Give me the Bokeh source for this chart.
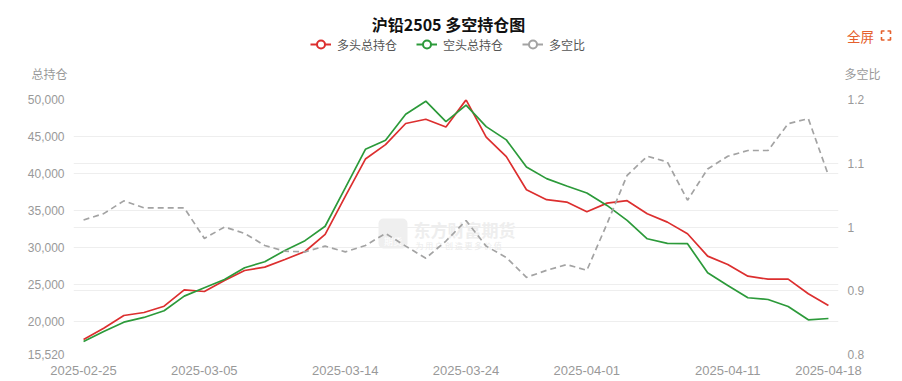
from bokeh.plotting import figure
from bokeh.layouts import column
from bokeh.models import (Range1d, LinearAxis, FixedTicker, Label, Legend, LegendItem,
                          NumeralTickFormatter, CustomJSTickFormatter, BoxAnnotation)
from bokeh.embed import file_html
from bokeh.resources import INLINE

# ---------------- data ----------------
dates = ["2025-02-25", "2025-02-26", "2025-02-27", "2025-02-28",
         "2025-03-03", "2025-03-04", "2025-03-05", "2025-03-06", "2025-03-07",
         "2025-03-10", "2025-03-11", "2025-03-12", "2025-03-13", "2025-03-14",
         "2025-03-17", "2025-03-18", "2025-03-19", "2025-03-20", "2025-03-21",
         "2025-03-24", "2025-03-25", "2025-03-26", "2025-03-27", "2025-03-28",
         "2025-03-31", "2025-04-01", "2025-04-02", "2025-04-03",
         "2025-04-07", "2025-04-08", "2025-04-09", "2025-04-10", "2025-04-11",
         "2025-04-14", "2025-04-15", "2025-04-16", "2025-04-17", "2025-04-18"]

long_oi = [17540, 19070, 20790, 21200, 22050, 24270, 24040, 25530, 26880, 27330,
           28370, 29450, 31760, 36900, 41950, 43900, 46750, 47330, 46290, 49950,
           44900, 42270, 37800, 36450, 36130, 34830, 35990, 36320, 34560, 33420,
           31850, 28820, 27700, 26110, 25710, 25710, 23730, 22150]

short_oi = [17270, 18630, 19890, 20530, 21430, 23410, 24550, 25670, 27250, 28060,
            29590, 30910, 32860, 38050, 43270, 44490, 48010, 49770, 47020, 49230,
            46330, 44540, 40880, 39300, 38300, 37350, 35680, 33650, 31170, 30540,
            30500, 26570, 24860, 23190, 22960, 22010, 20210, 20390]

ratio = [1.011, 1.021, 1.041, 1.030, 1.030, 1.030, 0.982, 1.000, 0.990, 0.971,
         0.962, 0.961, 0.970, 0.961, 0.971, 0.990, 0.970, 0.951, 0.978, 1.010,
         0.970, 0.952, 0.921, 0.932, 0.941, 0.932, 1.005, 1.081, 1.111, 1.102,
         1.042, 1.091, 1.111, 1.120, 1.120, 1.162, 1.170, 1.081]

x_tick_labels = ["2025-02-25", "2025-03-05", "2025-03-14", "2025-03-24",
                 "2025-04-01", "2025-04-11", "2025-04-18"]
left_ticks = [15520, 20000, 25000, 30000, 35000, 40000, 45000, 50000]
right_ticks = [0.8, 0.9, 1.0, 1.1, 1.2]

title_text = "沪铅2505 多空持仓图"
series_names = ["多头总持仓", "空头总持仓", "多空比"]
left_name = "总持仓"
right_name = "多空比"
fullscreen_text = "全屏"

# ---------------- style / layout ----------------
RED = "#dc2f2f"
GREEN = "#2c9a3a"
GRAY = "#a3a3a3"
ORANGE = "#e5602d"
TICK_COLOR = "#999999"
CJK = "Noto Sans CJK SC"
LAT = "Liberation Sans"

W = 900
HEAD_H = 91
MAIN_H = 290
BL, BR, BT, BB = 73, 62, 8, 27
FRAME_L, FRAME_T = BL, HEAD_H + BT
FRAME_W, FRAME_H = W - BL - BR, MAIN_H - BT - BB
N = len(dates)
YMIN, YMAX = left_ticks[0], left_ticks[-1]
RMIN, RMAX = right_ticks[0], right_ticks[-1]


def dx(px):
    return -0.5 + (px - FRAME_L) / FRAME_W * N


def dy(py):
    return YMAX - (py - FRAME_T) / FRAME_H * (YMAX - YMIN)


# ---------------- header (title, legend, axis names) ----------------
h = figure(width=W, height=HEAD_H, output_backend="svg", toolbar_location=None,
           x_range=Range1d(0, W), y_range=Range1d(HEAD_H, 0),
           x_axis_location=None, y_axis_location=None, min_border=0,
           background_fill_color="white", border_fill_color="white")
h.frame_align = False
h.outline_line_color = None
h.grid.visible = False

h.add_layout(Label(x=448, y=23.5, text=title_text, text_align="center",
                   text_baseline="middle", text_font=CJK, text_font_size="16px",
                   text_font_style="bold", text_color="#111111"))
h.add_layout(Label(x=49, y=73, text=left_name, text_align="center",
                   text_baseline="middle", text_font=CJK, text_font_size="12px",
                   text_color=TICK_COLOR))
h.add_layout(Label(x=862, y=73, text=right_name, text_align="center",
                   text_baseline="middle", text_font=CJK, text_font_size="12px",
                   text_color=TICK_COLOR))
h.add_layout(Label(x=846.5, y=35, text=fullscreen_text, text_align="left",
                   text_baseline="middle", text_font=CJK, text_font_size="13.5px",
                   text_color=ORANGE))

# fullscreen icon: four corner marks
cx0, cx1, cy0, cy1, arm = 881, 890, 30.5, 39.5, 3
icon_xs = [[cx0, cx0, cx0 + arm], [cx1 - arm, cx1, cx1],
           [cx0, cx0, cx0 + arm], [cx1 - arm, cx1, cx1]]
icon_ys = [[cy0 + arm, cy0, cy0], [cy0, cy0, cy0 + arm],
           [cy1 - arm, cy1, cy1], [cy1, cy1, cy1 - arm]]
h.multi_line(icon_xs, icon_ys, line_color=ORANGE, line_width=1.6)

# legend proxies: placed outside the header's visible range so only the legend shows them
leg_items = []
for name, col in zip(series_names, [RED, GREEN, GRAY]):
    lr = h.line([-50, -40], [-50, -50], line_color=col, line_width=2)
    sr = h.scatter([-45], [-50], marker="circle", size=8, fill_color="white",
                   line_color=col, line_width=2)
    leg_items.append(LegendItem(label=name, renderers=[lr, sr]))

legend = Legend(items=leg_items, orientation="horizontal",
                location=(310, HEAD_H - (44.3 + 10)),
                glyph_width=21, glyph_height=20, label_height=20, label_standoff=6,
                spacing=19, padding=0, margin=0, border_line_color=None,
                background_fill_alpha=0, label_text_font=CJK,
                label_text_font_size="12px", label_text_color="#555555")
h.add_layout(legend)

# ---------------- main chart ----------------
p = figure(width=W, height=MAIN_H, output_backend="svg", toolbar_location=None,
           x_range=Range1d(-0.5, N - 0.5), y_range=Range1d(YMIN, YMAX),
           min_border_left=BL, min_border_right=BR, min_border_top=BT, min_border_bottom=BB,
           background_fill_color="white", border_fill_color="white")
p.frame_align = False
p.outline_line_color = None
p.extra_y_ranges = {"ratio": Range1d(RMIN, RMAX)}

xa = p.xaxis[0]
xa.ticker = FixedTicker(ticks=[dates.index(d) for d in x_tick_labels])
xa.major_label_overrides = {dates.index(d): d for d in x_tick_labels}
xa.axis_line_color = None
xa.major_tick_line_color = None
xa.minor_tick_line_color = None
xa.major_tick_out = 0
xa.major_tick_in = 0
xa.minor_tick_out = 0
xa.major_label_standoff = 11
xa.major_label_text_font = LAT
xa.major_label_text_font_size = "13px"
xa.major_label_text_color = TICK_COLOR

ya = p.yaxis[0]
ya.ticker = FixedTicker(ticks=left_ticks)
ya.formatter = NumeralTickFormatter(format="0,0")
ya.axis_line_color = None
ya.major_tick_line_color = None
ya.minor_tick_line_color = None
ya.major_tick_out = 0
ya.major_tick_in = 0
ya.minor_tick_out = 0
ya.major_label_standoff = 9
ya.major_label_text_font = LAT
ya.major_label_text_font_size = "12px"
ya.major_label_text_color = TICK_COLOR

ra = LinearAxis(y_range_name="ratio", ticker=FixedTicker(ticks=right_ticks),
                formatter=CustomJSTickFormatter(code="return String(Math.round(tick*10)/10)"))
ra.axis_line_color = None
ra.major_tick_line_color = None
ra.minor_tick_line_color = None
ra.major_tick_out = 0
ra.major_tick_in = 0
ra.minor_tick_out = 0
ra.major_label_standoff = 9
ra.major_label_text_font = LAT
ra.major_label_text_font_size = "12px"
ra.major_label_text_color = TICK_COLOR
p.add_layout(ra, "right")

p.xgrid.visible = False
mapped = [YMIN + (r - RMIN) / (RMAX - RMIN) * (YMAX - YMIN) for r in right_ticks]
p.ygrid.ticker = FixedTicker(ticks=left_ticks + mapped)
p.ygrid.grid_line_color = "#eeeeee"
p.ygrid.grid_line_width = 1

# watermark
p.add_layout(BoxAnnotation(left=dx(378), right=dx(407), top=dy(218), bottom=dy(248),
                           fill_color="#efefef", fill_alpha=1, line_color=None,
                           border_radius=5, level="underlay"))
p.add_layout(Label(x=dx(392.5), y=dy(241), text="期货", text_align="center",
                   text_baseline="middle", text_font=CJK, text_font_size="9px",
                   text_color="white", level="underlay"))
p.add_layout(Label(x=dx(413), y=dy(228.5), text="东方财富期货", text_align="left",
                   text_baseline="middle", text_font=CJK, text_font_size="17px",
                   text_font_style="bold", text_color="#eeeeee", level="underlay"))
p.add_layout(Label(x=dx(415), y=dy(245), text="为 用 户 创 造 更 多 价 值", text_align="left",
                   text_baseline="middle", text_font=CJK, text_font_size="8px",
                   text_color="#ebebeb", level="underlay"))

idx = list(range(N))
p.line(idx, long_oi, line_color=RED, line_width=1.7)
p.line(idx, short_oi, line_color=GREEN, line_width=1.7)
p.line(idx, ratio, line_color=GRAY, line_width=1.7, line_dash="6 4", y_range_name="ratio")

layout = column(h, p, spacing=0)
open("out.html", "w").write(file_html(layout, INLINE))
